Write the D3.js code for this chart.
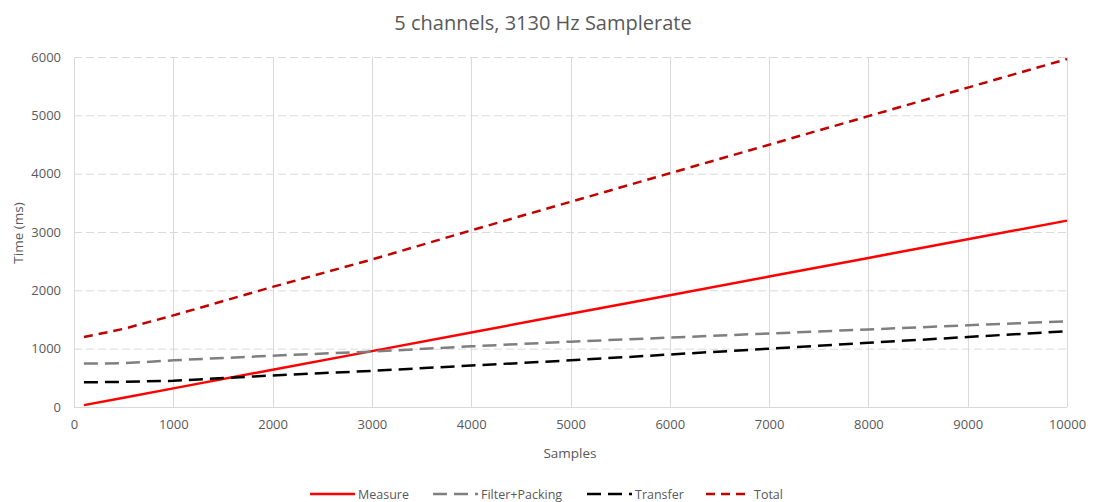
<!DOCTYPE html>
<html><head><meta charset="utf-8">
<script src="https://cdn.jsdelivr.net/npm/d3@7"></script>
<style>body{margin:0;background:#fff}svg{display:block}text{font-family:"Open Sans","Noto Sans",sans-serif;fill:#595959}</style>
</head><body>
<svg id="c" width="1095" height="502"></svg>
<script>
const samples = [100, 500, 1000, 2000, 3000, 4000, 5000, 6000, 7000, 8000, 9000, 10000];
const measure = [32, 160, 319, 639, 958, 1278, 1597, 1917, 2236, 2556, 2875, 3195];
const filterPacking = [745, 750, 800, 880, 950, 1040, 1120, 1190, 1260, 1330, 1400, 1470];
const transfer = [423, 430, 450, 540, 620, 710, 800, 900, 1000, 1100, 1200, 1300];
const total = [1200, 1340, 1570, 2059, 2528, 3028, 3517, 4007, 4496, 4986, 5475, 5965];
const xTicks = [0,1000,2000,3000,4000,5000,6000,7000,8000,9000,10000];
const yTicks = [0,1000,2000,3000,4000,5000,6000];
const seriesNames = ["Measure","Filter+Packing","Transfer","Total"];
const seriesValues = [measure, filterPacking, transfer, total];
const seriesColors = ["#FF0000","#7F7F7F","#000000","#C00000"];
const seriesDash = [null,"14,7","14,7","9,6"];

const svg = d3.select("#c");
const L=74, R=1067, T=57, B=407;
const x = d3.scaleLinear().domain([0,10000]).range([L,R]);
const y = d3.scaleLinear().domain([0,6000]).range([B,T]);

svg.append("text").attr("x",543).attr("y",30).attr("text-anchor","middle")
  .style("font-size","20px").text("5 channels, 3130 Hz Samplerate");

// grid
svg.append("g").selectAll("line").data(yTicks.filter(d=>d>0)).join("line")
  .attr("x1",L).attr("x2",R).attr("y1",d=>y(d)+0.5).attr("y2",d=>y(d)+0.5)
  .attr("stroke","#D9D9D9").attr("stroke-width",1).attr("stroke-dasharray","8,4");
svg.append("g").selectAll("line").data(xTicks).join("line")
  .attr("x1",d=>Math.round(x(d))+0.5).attr("x2",d=>Math.round(x(d))+0.5).attr("y1",T).attr("y2",B)
  .attr("stroke","#D9D9D9").attr("stroke-width",1);
svg.append("line").attr("x1",L).attr("x2",R).attr("y1",B+0.5).attr("y2",B+0.5)
  .attr("stroke","#D9D9D9").attr("stroke-width",1);

// axes
const xa = svg.append("g").attr("transform",`translate(0,${B})`).call(d3.axisBottom(x).tickValues(xTicks).tickSize(0).tickPadding(13).tickFormat(d3.format("d")));
const ya = svg.append("g").attr("transform",`translate(${L},0)`).call(d3.axisLeft(y).tickValues(yTicks).tickSize(0).tickPadding(13).tickFormat(d3.format("d")));
[xa,ya].forEach(a=>{a.select(".domain").remove(); a.selectAll("text").style("font-size","13px").attr("fill","#595959").style("font-family","'Open Sans',sans-serif");});

svg.append("text").attr("x",570).attr("y",458).attr("text-anchor","middle").style("font-size","13.5px").text("Samples");
svg.append("text").attr("transform","translate(23,233) rotate(-90)").attr("text-anchor","middle").style("font-size","13.5px").text("Time (ms)");

const line = d3.line().x(d=>x(d[0])).y(d=>y(d[1]));
seriesValues.forEach((vals,i)=>{
  svg.append("path").datum(samples.map((s,j)=>[s,vals[j]])).attr("d",line)
    .attr("fill","none").attr("stroke",seriesColors[i]).attr("stroke-width",2.5)
    .attr("stroke-dasharray",seriesDash[i]);
});

// legend
const legX = [310,433,587,706];
seriesNames.forEach((n,i)=>{
  svg.append("line").attr("x1",legX[i]).attr("x2",legX[i]+45).attr("y1",494).attr("y2",494)
    .attr("stroke",seriesColors[i]).attr("stroke-width",2.5).attr("stroke-dasharray",seriesDash[i]);
  svg.append("text").attr("x",legX[i]+48).attr("y",499).style("font-size","12.5px").text(n);
});
</script>
</body></html>
